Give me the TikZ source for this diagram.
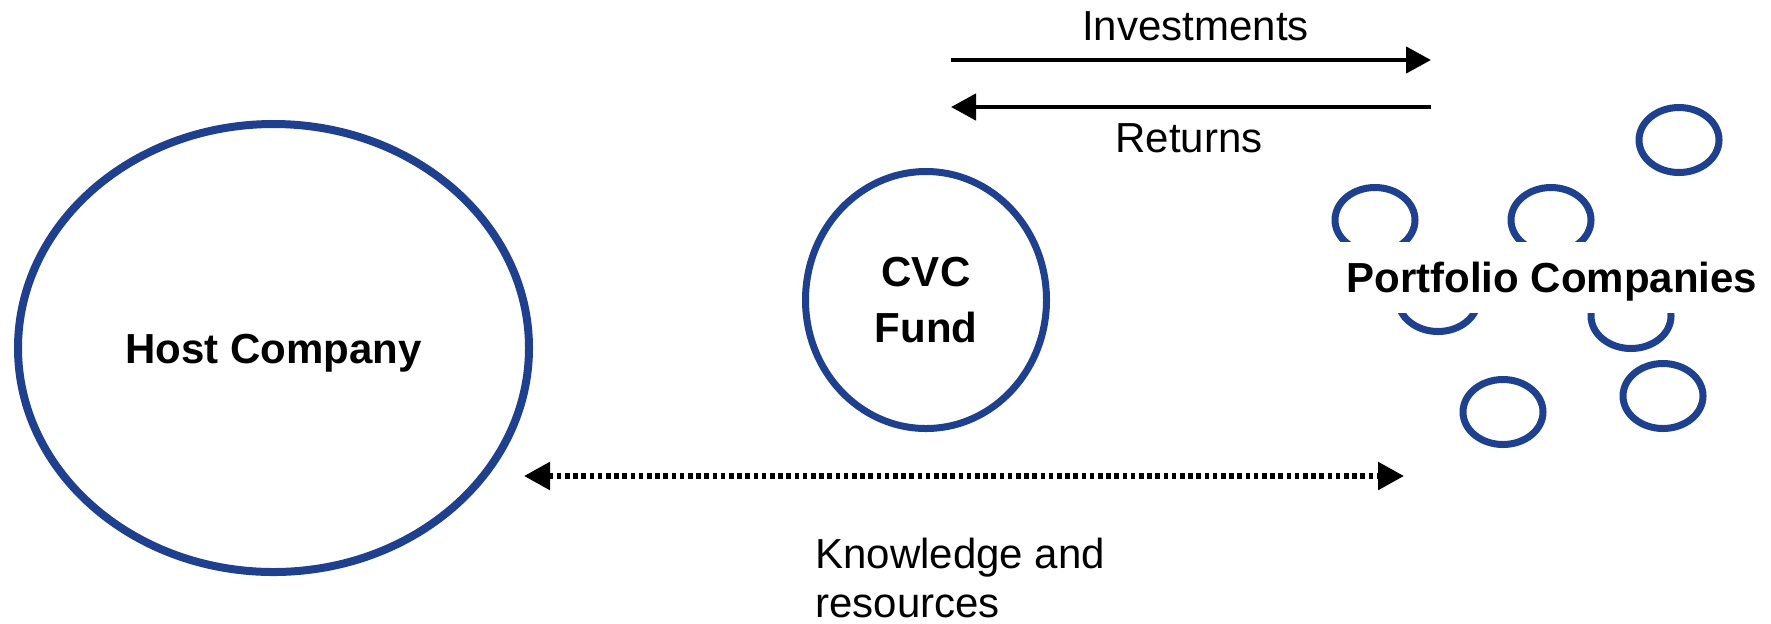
\documentclass[tikz,border=0pt]{standalone}
\usepackage{fontspec}
\setmainfont{Liberation Sans}
\usetikzlibrary{shapes.geometric,arrows.meta}
\definecolor{ringblue}{RGB}{30,64,143}
\begin{document}
\begin{tikzpicture}[x=0.5pt,y=-0.5pt,
  ring/.style={ellipse,draw=ringblue,line width=#1,inner sep=0pt},
  ring/.default=3.5pt,
  smallring/.style={ring,minimum width=40pt,minimum height=32.5pt},
  titletext/.style={font=\fontsize{21pt}{28pt}\selectfont\bfseries,
                    text height=15pt,text depth=0pt},
  plaintext/.style={font=\fontsize{21pt}{24.5pt}\selectfont,inner sep=0pt},
  flow/.style={line width=2.25pt,-{Triangle[length=12.5pt,width=13pt]}},
  twoway/.style={line width=2.75pt,dash pattern=on 2.25pt off 1.85pt,
                 {Triangle[length=13pt,width=13.5pt]}-{Triangle[length=13pt,width=13.5pt]}}
]
\path[fill=white,use as bounding box] (0,0) rectangle (1771,623);

% main entities
\node[ring=4pt,titletext,minimum width=255.5pt,minimum height=224pt] (host) at (273.5,348) {Host Company};
\node[ring=3.5pt,minimum width=120.5pt,minimum height=128.5pt] (cvc) at (926,300) {};
\node[titletext,text height=,text depth=,align=center,inner sep=0pt] (cvctext) at (cvc.center) {CVC\\Fund};

% portfolio cluster
\node[smallring] (pc1) at (1679,140) {};
\node[smallring] (pc2) at (1375,220) {};
\node[smallring] (pc3) at (1551,220) {};
\node[smallring] (pc4) at (1438,299) {};
\node[smallring] (pc5) at (1631,316) {};
\node[smallring] (pc6) at (1503,412) {};
\node[smallring] (pc7) at (1663,396) {};
\node[titletext,fill=white,minimum height=35.5pt,inner xsep=7.5pt] (portfolio) at (1552,277.5) {Portfolio Companies};

% money flows
\coordinate (invS) at (951,60);
\coordinate (invE) at (1431,60);
\coordinate (retS) at (1431,107);
\coordinate (retE) at (951,107);
\draw[flow] (invS) -- (invE);
\draw[flow] (retS) -- (retE);
\node[plaintext,anchor=base] (invlabel) at (1195.5,40) {Investments};
\node[plaintext,anchor=base] (retlabel) at (1189,152) {Returns};

% knowledge exchange
\coordinate (kL) at (524,476);
\coordinate (kR) at (1404,476);
\draw[twoway] (kL) -- (kR);
\node[plaintext,anchor=north west,align=left] (klabel) at (815,538) {Knowledge and\\resources};
\end{tikzpicture}
\end{document}
